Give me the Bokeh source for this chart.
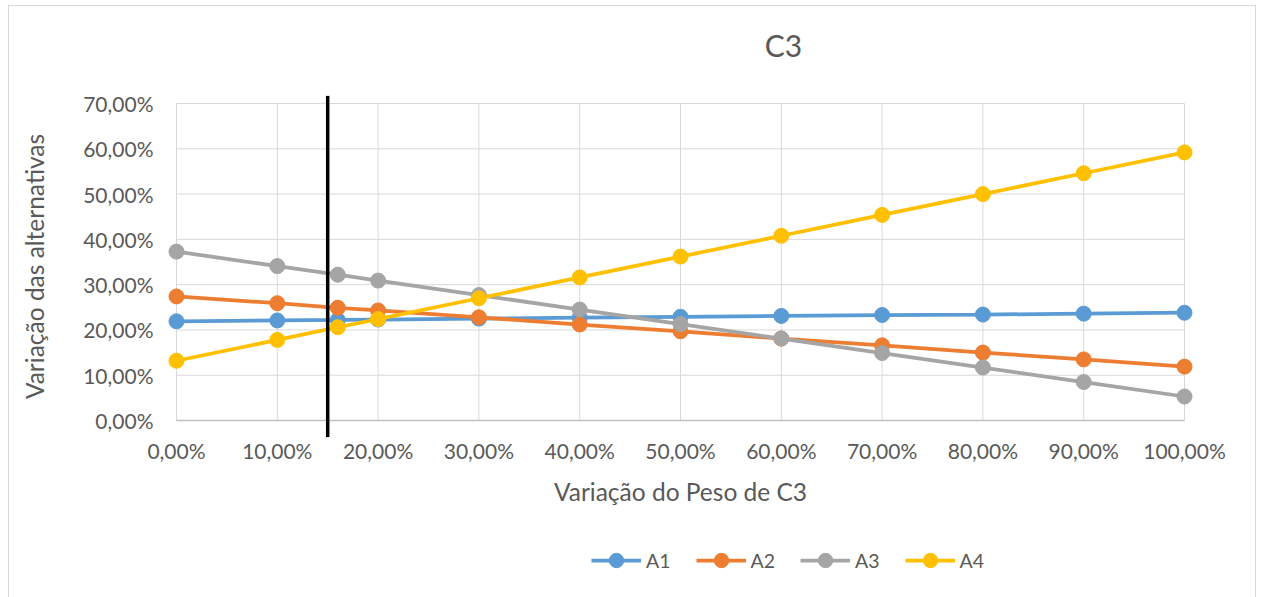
from bokeh.plotting import figure
from bokeh.layouts import column
from bokeh.models import (Range1d, FixedTicker, Legend, LegendItem, Label)
from bokeh.embed import file_html
from bokeh.resources import INLINE

# Weight of criterion C3 (%) and resulting score of each alternative (%)
peso = [0, 10, 16, 20, 30, 40, 50, 60, 70, 80, 90, 100]
a1 = [21.9, 22.1, 22.2, 22.3, 22.5, 22.7, 22.9, 23.1, 23.3, 23.4, 23.6, 23.8]
a2 = [27.4, 25.9, 24.9, 24.3, 22.8, 21.2, 19.7, 18.1, 16.6, 15.0, 13.5, 11.9]
a3 = [37.3, 34.1, 32.2, 30.9, 27.7, 24.5, 21.3, 18.1, 14.9, 11.7, 8.5, 5.3]
a4 = [13.2, 17.8, 20.6, 22.4, 27.0, 31.6, 36.2, 40.8, 45.4, 50.0, 54.6, 59.2]
series_names = ["A1", "A2", "A3", "A4"]
colors = ["#5B9BD5", "#ED7D31", "#A5A5A5", "#FFC000"]
titulo = "C3"

x_ticks = [0, 10, 20, 30, 40, 50, 60, 70, 80, 90, 100]
y_ticks = [0, 10, 20, 30, 40, 50, 60, 70]
peso_atual = 15  # current weight marker line
linha_y = [-3.7, 71.7]

FONT = "Lato"
TXT = "#595959"
GRID = "#D9D9D9"

# title strip
head = figure(width=1246, height=60, output_backend="svg", toolbar_location=None,
              x_axis_type=None, y_axis_type=None, x_range=Range1d(0, 1),
              y_range=Range1d(0, 1), min_border=0, margin=0,
              background_fill_color="white", border_fill_color="white")
head.outline_line_color = None
head.grid.visible = False
head.add_layout(Label(x=623, y=22, x_units="screen", y_units="screen",
                      text=titulo, text_align="center", text_baseline="middle",
                      text_font=FONT, text_font_size="30px", text_color=TXT))

# main chart
p = figure(width=1246, height=451, output_backend="svg", toolbar_location=None,
           x_range=Range1d(-1.587, 101.587), y_range=Range1d(-3.75, 71.77),
           min_border_left=151, min_border_right=55, min_border_top=29,
           min_border_bottom=80, background_fill_color="white",
           border_fill_color="white", margin=0)
p.outline_line_color = None
p.grid.visible = False

# gridlines drawn over the data extent only
p.segment(x0=x_ticks, x1=x_ticks, y0=[0] * len(x_ticks), y1=[70] * len(x_ticks),
          line_color=GRID, line_width=1)
p.segment(x0=[0] * len(y_ticks), x1=[100] * len(y_ticks), y0=y_ticks, y1=y_ticks,
          line_color=GRID, line_width=1)
p.segment(x0=[0], x1=[100], y0=[0], y1=[0], line_color="#BFBFBF", line_width=1.5)

for ys, c in zip([a1, a2, a3, a4], colors):
    p.line(peso, ys, line_color=c, line_width=3.75)
    p.scatter(peso, ys, size=15, fill_color=c, line_color=c)

p.line([peso_atual, peso_atual], linha_y, line_color="black", line_width=3.5)

# axes
p.xaxis.ticker = FixedTicker(ticks=x_ticks)
p.xaxis.major_label_overrides = {t: f"{t},00%" for t in x_ticks}
p.yaxis.ticker = FixedTicker(ticks=y_ticks)
p.yaxis.major_label_overrides = {t: f"{t},00%" for t in y_ticks}
for ax in (p.xaxis, p.yaxis):
    ax.axis_line_color = None
    ax.major_tick_line_color = None
    ax.minor_tick_line_color = None
    ax.major_tick_out = 0
    ax.major_label_text_font = FONT
    ax.major_label_text_font_size = "21px"
    ax.major_label_text_color = TXT
    ax.axis_label_text_font = FONT
    ax.axis_label_text_font_size = "24.5px"
    ax.axis_label_text_color = TXT
    ax.axis_label_text_font_style = "normal"
p.xaxis.axis_label = "Variação do Peso de C3"
p.yaxis.axis_label = "Variação das alternativas"
p.xaxis.major_label_standoff = 0
p.yaxis.major_label_standoff = 7
p.xaxis.axis_label_standoff = 11
p.yaxis.axis_label_standoff = 31

# legend strip under the chart; its sample renderers sit outside the view
leg = figure(width=1246, height=86, output_backend="svg", toolbar_location=None,
             x_axis_type=None, y_axis_type=None, x_range=Range1d(0, 1),
             y_range=Range1d(0, 1), min_border=0, margin=0,
             background_fill_color="white", border_fill_color="white")
leg.outline_line_color = None
leg.grid.visible = False
items = []
for name, c in zip(series_names, colors):
    ln = leg.line(x=[-5, -4], y=[-5, -4], line_color=c, line_width=3.75)
    sc = leg.scatter(x=[-5], y=[-5], size=15, fill_color=c, line_color=c)
    items.append(LegendItem(label=name, renderers=[ln, sc]))
leg.add_layout(Legend(items=items, orientation="horizontal", location=(431, 25),
                      glyph_width=50, glyph_height=36, label_standoff=5,
                      spacing=25, padding=0, label_text_font=FONT,
                      label_text_font_size="19.5px", label_text_color=TXT,
                      border_line_color=None, background_fill_alpha=0,
                      margin=0))

chart = column(head, p, leg, spacing=0, margin=(5, 6, 0, 8),
               styles={"border": "1px solid #D9D9D9"})

out = file_html(chart, INLINE)
open("out.html", "w").write(out)
